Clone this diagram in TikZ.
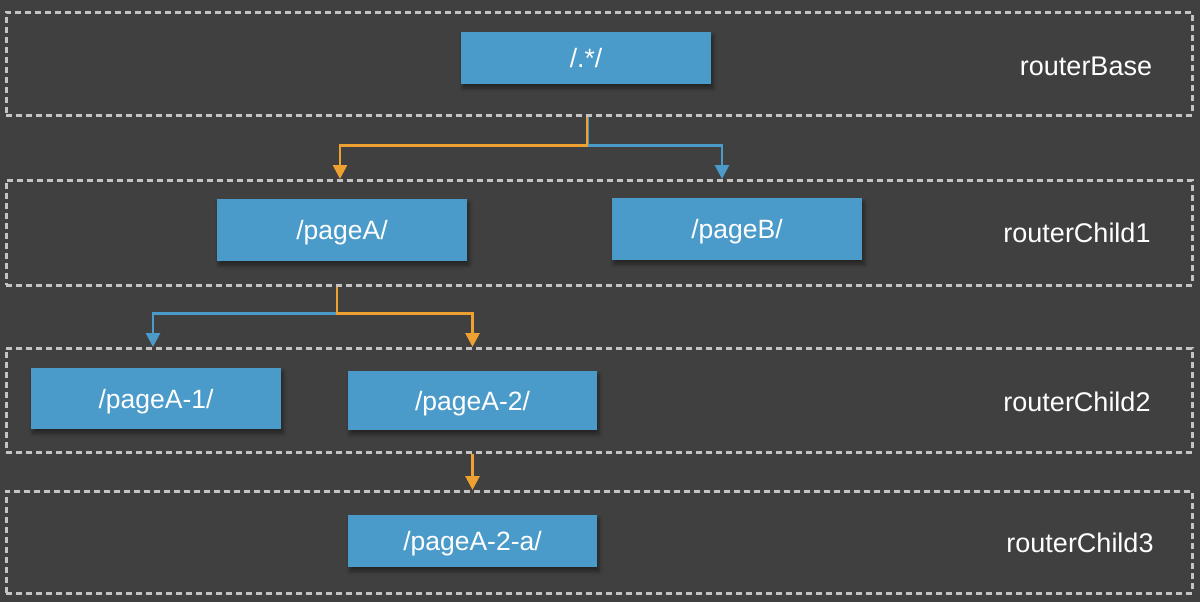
\documentclass[tikz,border=0pt]{standalone}
\usepackage{fontspec}
\setmainfont{Liberation Sans}
\usetikzlibrary{arrows.meta,shadows.blur,calc}
\definecolor{bg}{HTML}{404040}
\definecolor{boxblue}{HTML}{4A9BC9}
\definecolor{arrorange}{HTML}{EEA030}
\definecolor{arrblue}{HTML}{4A9BC9}
\definecolor{dashgray}{HTML}{C4C4C4}
\tikzset{
  band/.style={draw=dashgray, line width=2.6pt, dash pattern=on 6pt off 4pt, inner sep=0pt, anchor=north west},
  routebox/.style={fill=boxblue, text=white, inner sep=0pt, font=\fontsize{26.5}{30}\selectfont,
     text height=19pt, text depth=0pt,
     blur shadow={shadow xshift=2pt, shadow yshift=-4pt, shadow blur radius=4pt, shadow opacity=45}},
  bandlabel/.style={text=white, font=\fontsize{27}{30}\selectfont, inner sep=0pt, text height=19pt, text depth=0pt},
  oarrow/.style={draw=arrorange, line width=2.8pt, -{Triangle[width=14pt,length=14pt]}},
  barrow/.style={draw=arrblue, line width=2.8pt, -{Triangle[width=14pt,length=14pt]}},
}
\begin{document}
\begin{tikzpicture}[x=1pt,y=-1pt]
\fill[bg] (0,0) rectangle (1200,602);
\useasboundingbox (0,0) rectangle (1200,602);
% bands
\node[band, minimum width=1186pt, minimum height=103pt] (band1) at (5,11) {};
\node[band, minimum width=1186pt, minimum height=105pt] (band2) at (5,179) {};
\node[band, minimum width=1186pt, minimum height=104pt] (band3) at (5,347) {};
\node[band, minimum width=1186pt, minimum height=102pt] (band4) at (5,490) {};
% boxes
\node[routebox, minimum width=250pt, minimum height=52pt] (root) at (586,58) {/.*/};
\node[routebox, minimum width=250pt, minimum height=62pt] (pageA) at (342,230) {/pageA/};
\node[routebox, minimum width=250pt, minimum height=62pt] (pageB) at (737,229) {/pageB/};
\node[routebox, minimum width=250pt, minimum height=61pt] (pageA1) at (156,398.5) {/pageA-1/};
\node[routebox, minimum width=249pt, minimum height=59pt] (pageA2) at (472.5,400.5) {/pageA-2/};
\node[routebox, minimum width=249pt, minimum height=52pt] (pageA2a) at (472.5,541) {/pageA-2-a/};
% labels
\node[bandlabel] (lbl1) at (1086,66) {routerBase};
\node[bandlabel] (lbl2) at (1077,232.5) {routerChild1};
\node[bandlabel] (lbl3) at (1077,401.5) {routerChild2};
\node[bandlabel] (lbl4) at (1080,543) {routerChild3};
% connectors
\coordinate (s1) at ($(root.south |- band1.south)+(2,0)$);
\coordinate (t1b) at ($(pageB.south |- band2.north)+(-15,0)$);
\draw[barrow] (s1) -- ++(0,29) -| (t1b);
\draw[oarrow] ($(s1)+(-1,0)$) -- ++(0,29) -| ($(pageA.south |- band2.north)+(-2,0)$);
\coordinate (s2) at ($(pageA.south |- band2.south)+(-5,0)$);
\draw[barrow] (s2) -- ++(0,27) -| ($(pageA1.south |- band3.north)+(-3,0)$);
\draw[oarrow] (s2) -- ++(0,27) -| (pageA2.south |- band3.north);
\draw[oarrow] (pageA2.south |- band3.south) -- (pageA2a.north |- band4.north);
\end{tikzpicture}
\end{document}
